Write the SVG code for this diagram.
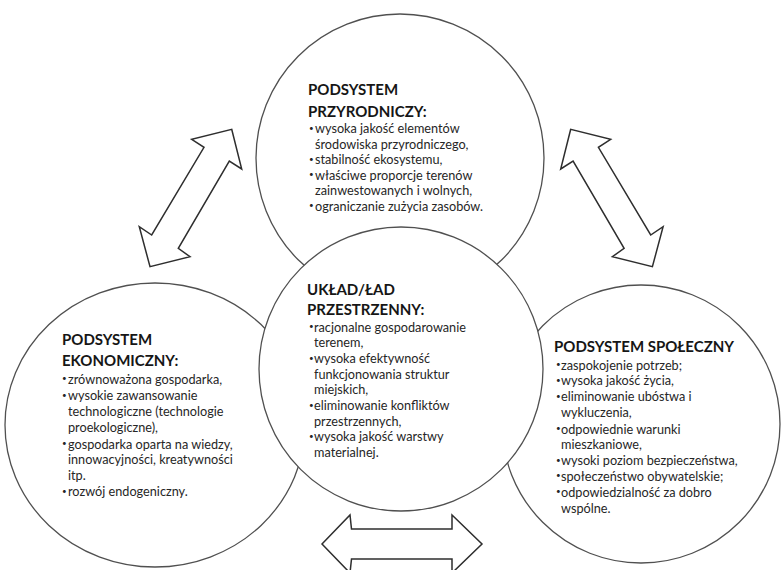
<svg xmlns="http://www.w3.org/2000/svg" width="781" height="570" viewBox="0 0 781 570">
  <style>
    .circle { fill: #ffffff; stroke: #505050; stroke-width: 1.3; }
    .arrow { fill: #ffffff; stroke: #2e2e2e; stroke-width: 1.5; stroke-linejoin: miter; }
    .head { font-family: Lato, "Open Sans", sans-serif; font-weight: bold; font-size: 15px; fill: #161616; }
    .txt { font-family: Lato, "Open Sans", sans-serif; font-size: 12.7px; fill: #262626; }
    .dot { font-family: Lato, "Open Sans", sans-serif; font-size: 8px; fill: #262626; }
  </style>

  <rect width="781" height="570" fill="#ffffff"/>

  <!-- natural subsystem (top) -->
  <g id="node-przyrodniczy">
    <circle class="circle" cx="400" cy="158" r="144"/>
    <text class="head" x="308" y="95">PODSYSTEM</text>
    <text class="head" x="308" y="116.5">PRZYRODNICZY:</text>
    <text class="dot" x="309" y="130.5">•</text>
    <text class="txt" x="315" y="133">wysoka jakość elementów</text>
    <text class="txt" x="315" y="148.5">środowiska przyrodniczego,</text>
    <text class="dot" x="309" y="161.5">•</text>
    <text class="txt" x="315" y="164">stabilność ekosystemu,</text>
    <text class="dot" x="309" y="177">•</text>
    <text class="txt" x="315" y="179.5">właściwe proporcje  terenów</text>
    <text class="txt" x="315" y="195">zainwestowanych i wolnych,</text>
    <text class="dot" x="309" y="208">•</text>
    <text class="txt" x="315" y="210.5">ograniczanie zużycia zasobów.</text>
  </g>

  <!-- economic subsystem (left) -->
  <g id="node-ekonomiczny">
    <ellipse class="circle" cx="155" cy="425" rx="150" ry="142"/>
    <text class="head" x="62" y="345">PODSYSTEM</text>
    <text class="head" x="62" y="366">EKONOMICZNY:</text>
    <text class="dot" x="62" y="381">•</text>
    <text class="txt" x="68" y="383.5">zrównoważona  gospodarka,</text>
    <text class="dot" x="62" y="397.5">•</text>
    <text class="txt" x="68" y="400">wysokie zawansowanie</text>
    <text class="txt" x="68" y="416">technologiczne (technologie</text>
    <text class="txt" x="68" y="432">proekologiczne),</text>
    <text class="dot" x="62" y="446">•</text>
    <text class="txt" x="68" y="448.5">gospodarka oparta na wiedzy,</text>
    <text class="txt" x="68" y="464">innowacyjności, kreatywności</text>
    <text class="txt" x="68" y="479.5">itp.</text>
    <text class="dot" x="62" y="493.5">•</text>
    <text class="txt" x="68" y="496">rozwój endogeniczny.</text>
  </g>

  <!-- social subsystem (right) -->
  <g id="node-spoleczny">
    <circle class="circle" cx="641" cy="424" r="139"/>
    <text class="head" x="554" y="352">PODSYSTEM SPOŁECZNY</text>
    <text class="dot" x="556" y="367">•</text>
    <text class="txt" x="561" y="369.5">zaspokojenie potrzeb;</text>
    <text class="dot" x="556" y="382.5">•</text>
    <text class="txt" x="561" y="385">wysoka jakość życia,</text>
    <text class="dot" x="556" y="398.5">•</text>
    <text class="txt" x="561" y="401">eliminowanie ubóstwa i</text>
    <text class="txt" x="561" y="417">wykluczenia,</text>
    <text class="dot" x="556" y="431">•</text>
    <text class="txt" x="561" y="433.5">odpowiednie  warunki</text>
    <text class="txt" x="561" y="448.5">mieszkaniowe,</text>
    <text class="dot" x="556" y="462.5">•</text>
    <text class="txt" x="561" y="465">wysoki poziom  bezpieczeństwa,</text>
    <text class="dot" x="556" y="478">•</text>
    <text class="txt" x="561" y="480.5">społeczeństwo obywatelskie;</text>
    <text class="dot" x="556" y="494">•</text>
    <text class="txt" x="561" y="496.5">odpowiedzialność za dobro</text>
    <text class="txt" x="561" y="512.5">wspólne.</text>
  </g>

  <!-- double arrows between subsystems -->
  <g id="connectors">
    <polygon class="arrow" points="231.7,129.3 241.7,169 229.3,161 178.3,248.3 190,256.7 150,266.7 139.3,226.7 151.7,235 204,147.3 191.7,139.3"/>
    <polygon class="arrow" points="570.7,129.3 560.7,169 573.1,161 624.1,248.3 612.4,256.7 652.4,266.7 663.1,226.7 650.7,235 598.4,147.3 610.7,139.3"/>
    <polygon class="arrow" points="322,544 350,515 351.5,529 452,529 452,515 482,544 452,573 452,559 351.5,559 350,573"/>
  </g>

  <!-- spatial order (centre), drawn over the neighbouring circles -->
  <g id="node-uklad">
    <circle class="circle" cx="401" cy="369" r="142"/>
    <text class="head" x="307" y="294.5">UKŁAD/ŁAD</text>
    <text class="head" x="307" y="315">PRZESTRZENNY:</text>
    <text class="dot" x="309" y="329">•</text>
    <text class="txt" x="314" y="331.5">racjonalne gospodarowanie</text>
    <text class="txt" x="314" y="347">terenem,</text>
    <text class="dot" x="309" y="360.5">•</text>
    <text class="txt" x="314" y="363">wysoka efektywność</text>
    <text class="txt" x="314" y="378.5">funkcjonowania  struktur</text>
    <text class="txt" x="314" y="394">miejskich,</text>
    <text class="dot" x="309" y="407.5">•</text>
    <text class="txt" x="314" y="410">eliminowanie konfliktów</text>
    <text class="txt" x="314" y="425.5">przestrzennych,</text>
    <text class="dot" x="309" y="438.5">•</text>
    <text class="txt" x="314" y="441">wysoka jakość warstwy</text>
    <text class="txt" x="314" y="456.7">materialnej.</text>
  </g>
</svg>
